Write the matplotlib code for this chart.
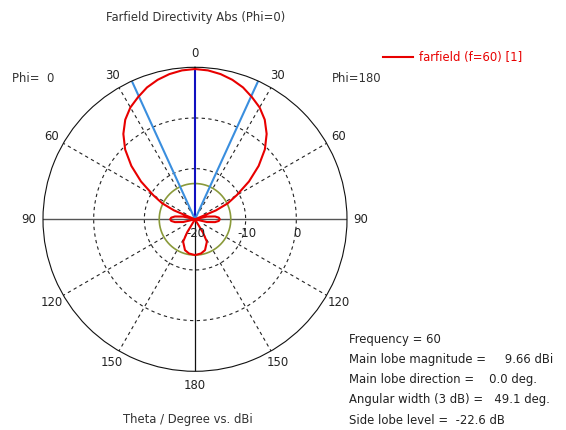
import numpy as np
import matplotlib.pyplot as plt

# farfield cut, theta in degrees, directivity in dBi (pattern is symmetric, phi=0 / phi=180)
theta_deg = [0, 5, 10, 15, 20, 25, 30, 35, 40, 45, 50, 55, 60, 64, 67, 70,
             75, 77, 82, 86, 90, 94, 98, 103, 105,
             147, 149, 152, 162, 170, 180]
dbi = [9.66, 9.5, 9.1, 8.5, 7.7, 6.6, 5.5, 4.0, 2.0, -0.5, -3.6, -7.0, -10.5, -12.8, -15.5, -20,
       -20, -17.6, -16.0, -15.3, -15.1, -15.3, -16.0, -17.6, -20,
       -20, -17.0, -15.0, -13.6, -13.15, -12.94]

main_lobe_dir = 0.0
beam_width = 49.1
side_lobe_level = -12.94   # 9.66 - 22.6
r_min, r_max = -20, 10
ring_values = [-10, 0]
ring_labels = ['-20', '-10', '0']
ring_label_pos = [-20, -10, 0]
angle_ticks = [0, 30, 60, 90, 120, 150, 180, 210, 240, 270, 300, 330]
angle_labels = ['0', '30', '60', '90', '120', '150', '180', '150', '120', '90', '60', '30']
spoke_angles = [30, 60, 120, 150, 210, 240, 300, 330]

plt.rcParams['font.family'] = ['DejaVu Sans']
plt.rcParams['font.size'] = 8.4

fig = plt.figure(figsize=(5.66, 4.30), dpi=100)
ax = fig.add_axes([43 / 566, (430 - 219.3 - 152) / 430, 304 / 566, 304 / 430], projection='polar')
ax.set_theta_zero_location('N')
ax.set_theta_direction(1)
ax.set_ylim(r_min, r_max)
ax.grid(False)
ax.set_yticks([])
ax.set_xticks(np.radians(angle_ticks))
ax.set_xticklabels(angle_labels, color='#222222')
ax.tick_params(axis='x', pad=3, length=0)
ax.spines['polar'].set_linewidth(0.8)
ax.spines['polar'].set_color('#111111')

full = np.linspace(0, 2 * np.pi, 400)
for rv in ring_values:
    ax.plot(full, np.full_like(full, rv), ls=(0, (3, 3)), color='#222222', lw=0.8)
for a in spoke_angles:
    ax.plot([np.radians(a)] * 2, [-18, r_max], ls=(0, (3, 3)), color='#222222', lw=0.8)

# axis lines
ax.plot([np.radians(90), np.radians(90)], [r_min, r_max], color='#555555', lw=1.0)
ax.plot([np.radians(270), np.radians(270)], [r_min, r_max], color='#555555', lw=1.0)
ax.plot([np.pi, np.pi], [r_min, r_max], color='#111111', lw=0.9)

# side lobe level circle
ax.plot(full, np.full_like(full, side_lobe_level), color='#8a9a3a', lw=1.2)

# main lobe direction and 3 dB beam width
ax.plot([np.radians(main_lobe_dir)] * 2, [r_min, r_max], color='#1010c0', lw=1.5)
for s in (1, -1):
    a = np.radians(main_lobe_dir + s * beam_width / 2)
    ax.plot([a, a], [r_min, r_max], color='#3a8ede', lw=1.5)

th = np.radians(theta_deg)
vals = np.maximum(np.array(dbi), r_min)
th_full = np.concatenate([th, 2 * np.pi - th[::-1]])
v_full = np.concatenate([vals, vals[::-1]])
line, = ax.plot(th_full, v_full, color='#e80000', lw=1.5, label='farfield (f=60) [1]')

for lab, rv in zip(ring_labels, ring_label_pos):
    ax.annotate(lab, xy=(np.radians(270), rv), xytext=(1, -14), textcoords='offset pixels',
                ha='center', va='center', color='#222222')

fig.text(196 / 566, 1 - 18 / 430, 'Farfield Directivity Abs (Phi=0)', ha='center', va='center', color='#333333')
fig.text(188 / 566, 1 - 420 / 430, 'Theta / Degree vs. dBi', ha='center', va='center', color='#333333')
fig.text(12 / 566, 1 - 78 / 430, 'Phi=  0', ha='left', va='center', color='#333333')
fig.text(332 / 566, 1 - 78 / 430, 'Phi=180', ha='left', va='center', color='#333333')

info = ['Frequency = 60',
        'Main lobe magnitude =     9.66 dBi',
        'Main lobe direction =    0.0 deg.',
        'Angular width (3 dB) =   49.1 deg.',
        'Side lobe level =  -22.6 dB']
for i, s in enumerate(info):
    fig.text(349 / 566, 1 - (340 + i * 20) / 430, s, ha='left', va='center', color='#222222')

fig.legend(handles=[line], loc='center left', bbox_to_anchor=(372 / 566, 1 - 58 / 430),
           frameon=False, handlelength=2.6, handletextpad=0.5, labelcolor='#e80000')

fig.savefig('out.png', dpi=100)
